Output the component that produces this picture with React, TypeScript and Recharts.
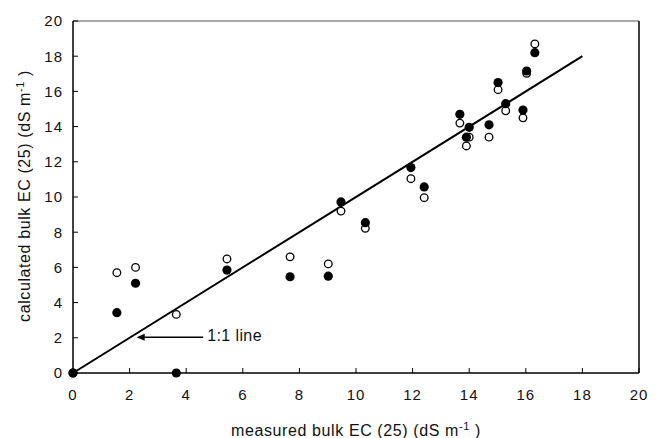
import React from "react";
import { ScatterChart, Scatter, XAxis, YAxis, ReferenceLine } from "recharts";

// measured bulk EC (x) shared by both sets of calculated values
const measured = [0, 1.55, 2.21, 3.65, 5.44, 7.67, 9.02, 9.47, 10.33, 11.94, 12.41, 13.67, 13.9, 14.0, 14.7, 15.02, 15.29, 15.9, 16.03, 16.32];
const calcFilled = [0, 3.43, 5.1, 0, 5.85, 5.47, 5.5, 9.72, 8.54, 11.67, 10.57, 14.7, 13.4, 13.96, 14.1, 16.5, 15.3, 14.94, 17.16, 18.2];
const calcOpen = [0, 5.7, 6.0, 3.33, 6.48, 6.6, 6.2, 9.2, 8.22, 11.04, 9.96, 14.2, 12.9, 13.4, 13.4, 16.1, 14.9, 14.5, 17.03, 18.7];
const ticks = [0, 2, 4, 6, 8, 10, 12, 14, 16, 18, 20];

const filledData = measured.map((x, i) => ({ x, y: calcFilled[i] }));
const openData = measured.map((x, i) => ({ x, y: calcOpen[i] }));

const FONT = "'Liberation Sans', Arial, sans-serif";

const XTitle = (props: any) => {
  const vb = props.viewBox;
  return (
    <text x={vb.x + vb.width / 2} y={vb.y + 63} textAnchor="middle" fontSize={16} letterSpacing={0.6} fontFamily={FONT} fill="#111">
      measured bulk EC (25) (dS m<tspan dy={-6} fontSize={11}>-1</tspan>
      <tspan dy={6}> )</tspan>
    </text>
  );
};

const YTitle = () => {
  const cx = 22;
  const cy = 188;
  return (
    <text x={cx} y={cy} transform={`rotate(-90 ${cx} ${cy})`} textAnchor="middle" fontSize={16} letterSpacing={0.6} fontFamily={FONT} fill="#111">
      calculated bulk EC (25) (dS m<tspan dy={-6} fontSize={11}>-1</tspan>
      <tspan dy={6}> )</tspan>
    </text>
  );
};

const Arrow = (p: any) => {
  const { x1, y1, x2, y2 } = p;
  return (
    <g>
      <line x1={x1 + 6} y1={y1} x2={x2} y2={y2} stroke="#000" strokeWidth={1.5} />
      <polygon points={`${x1},${y1} ${x1 + 8},${y1 - 3.5} ${x1 + 8},${y1 + 3.5}`} fill="#000" />
      <text x={x2 + 4} y={y2} dominantBaseline="middle" fontSize={16} letterSpacing={0.4} fontFamily={FONT} fill="#111">
        1:1 line
      </text>
    </g>
  );
};

export default function App() {
  return (
    <ScatterChart width={649} height={430} margin={{ top: 13, right: 18, left: 0, bottom: 0 }}>
      <XAxis
        type="number"
        dataKey="x"
        domain={[0, 20]}
        ticks={ticks}
        height={65}
        axisLine={{ stroke: "#000", strokeWidth: 1.5 }}
        tickLine={{ stroke: "#000" }}
        tickSize={-5}
        tickMargin={21}
        tick={{ fontSize: 15, letterSpacing: 1, fontFamily: FONT, fill: "#111" }}
        label={<XTitle />}
      />
      <YAxis
        type="number"
        dataKey="y"
        domain={[0, 20]}
        ticks={ticks}
        width={65}
        axisLine={{ stroke: "#000", strokeWidth: 1.5 }}
        tickLine={{ stroke: "#000" }}
        tickSize={-5}
        tickMargin={15}
        tick={{ fontSize: 15, letterSpacing: 1, fontFamily: FONT, fill: "#111" }}
        label={<YTitle />}
      />
      <ReferenceLine y={20} stroke="#555" strokeWidth={1} />
      <ReferenceLine x={20} stroke="#000" strokeWidth={1.5} />
      <ReferenceLine
        segment={[{ x: 0, y: 0 }, { x: 18, y: 18 }]}
        stroke="#000"
        strokeWidth={2}
        ifOverflow="visible"
      />
      <ReferenceLine
        segment={[{ x: 2.25, y: 2.03 }, { x: 4.6, y: 2.03 }]}
        shape={<Arrow />}
        ifOverflow="visible"
      />
      <Scatter
        data={openData}
        isAnimationActive={false}
        shape={(p: any) => <circle cx={p.cx} cy={p.cy} r={3.8} fill="#fff" stroke="#000" strokeWidth={1.3} />}
      />
      <Scatter
        data={filledData}
        isAnimationActive={false}
        shape={(p: any) => <circle cx={p.cx} cy={p.cy} r={4.6} fill="#000" />}
      />
    </ScatterChart>
  );
}
